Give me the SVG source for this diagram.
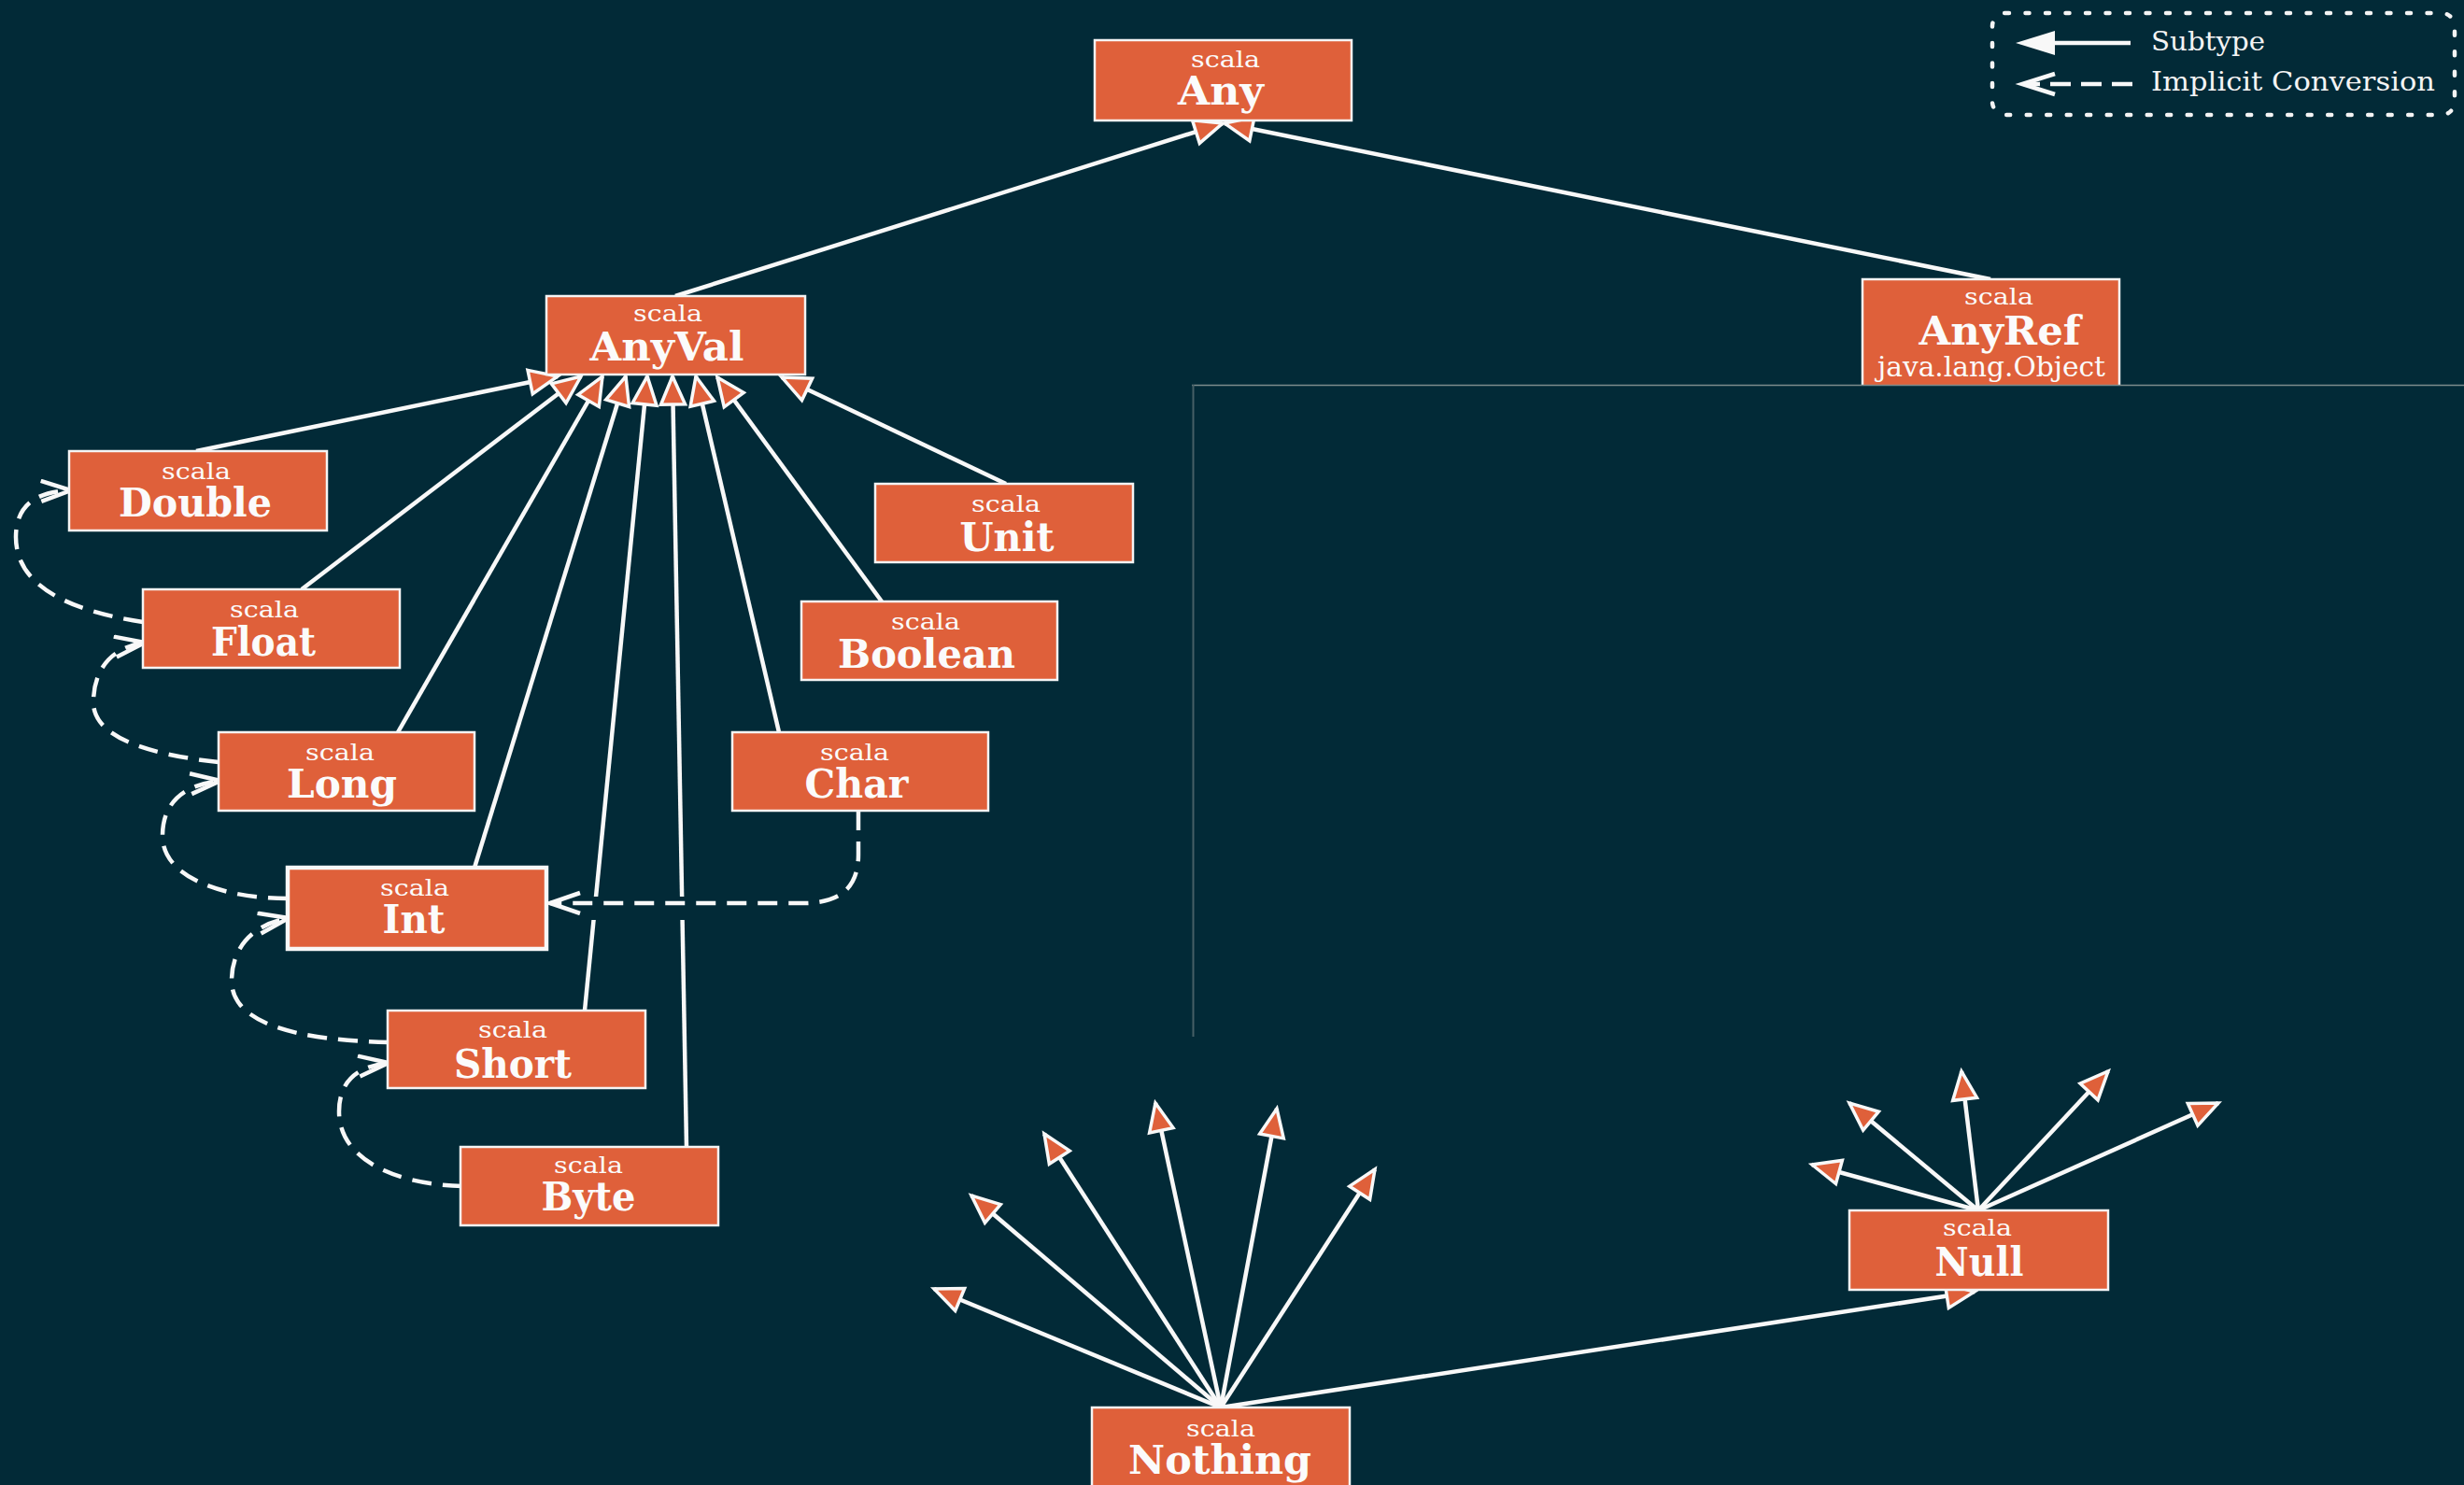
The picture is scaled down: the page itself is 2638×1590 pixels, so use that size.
<svg xmlns="http://www.w3.org/2000/svg" width="2638" height="1590" viewBox="0 0 2638 1590">
<defs>
<style>
.box{fill:#df603a;stroke:#f4f4f4;stroke-width:2.5}
.boxb{fill:#df603a;stroke:#f8f8f8;stroke-width:4.5}
.pkg{font-family:"DejaVu Serif","Liberation Serif",serif;font-size:25px;fill:#fbfbfb;text-anchor:middle}
.nm{font-family:"DejaVu Serif","Liberation Serif",serif;font-size:42px;font-weight:bold;fill:#fbfbfb;text-anchor:middle}
.sub{fill:none;stroke:#f8f8f8;stroke-width:4.5;marker-end:url(#tri)}
.imp{fill:none;stroke:#f8f8f8;stroke-width:4.5;stroke-dasharray:21 12;marker-end:url(#chev)}
.leg{font-family:"DejaVu Serif","Liberation Serif",serif;font-size:28px;fill:#f4f4f4}
</style>
<marker id="tri" markerUnits="userSpaceOnUse" markerWidth="40" markerHeight="40" viewBox="0 0 40 40" refX="34" refY="16" orient="auto">
<path d="M4,3 L34,16 L4,29 Z" fill="#df603a" stroke="#f8f8f8" stroke-width="3.5" stroke-linejoin="miter"/>
</marker>
<marker id="chev" markerUnits="userSpaceOnUse" markerWidth="40" markerHeight="30" viewBox="0 0 40 30" refX="35" refY="13" orient="auto">
<path d="M3,2 L35,13 L3,24" fill="none" stroke="#f8f8f8" stroke-width="4.5" stroke-linejoin="miter"/>
</marker>
</defs>
<rect x="0" y="0" width="2638" height="1590" fill="#022a37"/>

<g id="connectors">
<path class="sub" d="M723,317 L1309,132"/>
<path class="sub" d="M2131,299 L1311,132"/>
<path class="sub" d="M210,483 L597,403"/>
<path class="sub" d="M323,631 L622,403"/>
<path class="sub" d="M426,784 L645,403"/>
<path class="sub" d="M508,929 L670,403"/>
<path class="sub" d="M626,1082 L693,403"/>
<path class="sub" d="M735,1228 L720,403"/>
<path class="sub" d="M834,784 L745,403"/>
<path class="sub" d="M944,644 L768,404"/>
<path class="sub" d="M1077,518 L837,404"/>
<path class="sub" d="M1307,1507 L1000,1380"/>
<path class="sub" d="M1307,1507 L1040,1280"/>
<path class="sub" d="M1307,1507 L1118,1214"/>
<path class="sub" d="M1307,1507 L1237,1181"/>
<path class="sub" d="M1307,1507 L1367,1187"/>
<path class="sub" d="M1307,1507 L1472,1252"/>
<path class="sub" d="M1307,1507 L2114,1383"/>
<path class="sub" d="M2118,1296 L1940,1247"/>
<path class="sub" d="M2118,1296 L1980,1181"/>
<path class="sub" d="M2118,1296 L2100,1147"/>
<path class="sub" d="M2118,1296 L2257,1147"/>
<path class="sub" d="M2118,1296 L2375,1181"/>
<path d="M612,972.5 L900,972.5" stroke="#022a37" stroke-width="25" fill="none"/>
<path class="imp" d="M153,666 C80,655 17,630 17,575 C17,540 40,526 76,525"/>
<path class="imp" d="M234,816 C160,808 100,790 100,752 C100,716 120,693 155,688"/>
<path class="imp" d="M308,962 C240,962 174,940 174,895 C174,860 196,840 236,836"/>
<path class="imp" d="M416,1116 C330,1114 248,1100 248,1050 C248,1015 270,990 309,983"/>
<path class="imp" d="M495,1270 C420,1268 363,1240 363,1190 C363,1160 380,1142 416,1138"/>
<path class="imp" d="M919,868 L919,915 C919,950 900,967 860,967 L589,967"/>
</g>

<g id="node-any">
<rect class="box" x="1172" y="43" width="275" height="86"/>
<text class="pkg" x="1312" y="72" textLength="74" lengthAdjust="spacingAndGlyphs">scala</text>
<text class="nm" x="1307" y="112" textLength="92" lengthAdjust="spacingAndGlyphs">Any</text>
</g>
<g id="node-anyval">
<rect class="box" x="585" y="317" width="277" height="84"/>
<text class="pkg" x="715" y="344" textLength="74" lengthAdjust="spacingAndGlyphs">scala</text>
<text class="nm" x="714" y="386" textLength="165" lengthAdjust="spacingAndGlyphs">AnyVal</text>
</g>
<g id="node-anyref">
<rect class="box" x="1994" y="299" width="275" height="130"/>
<text class="pkg" x="2140" y="326" textLength="74" lengthAdjust="spacingAndGlyphs">scala</text>
<text class="nm" x="2141" y="369" textLength="173" lengthAdjust="spacingAndGlyphs">AnyRef</text>
<text class="pkg" x="2132" y="403" style="font-size:29px" textLength="244" lengthAdjust="spacingAndGlyphs">java.lang.Object</text>
</g>
<g id="node-double">
<rect class="box" x="74" y="483" width="276" height="85"/>
<text class="pkg" x="210" y="513" textLength="74" lengthAdjust="spacingAndGlyphs">scala</text>
<text class="nm" x="209" y="553" textLength="164" lengthAdjust="spacingAndGlyphs">Double</text>
</g>
<g id="node-float">
<rect class="box" x="153" y="631" width="275" height="84"/>
<text class="pkg" x="283" y="661" textLength="74" lengthAdjust="spacingAndGlyphs">scala</text>
<text class="nm" x="282" y="702" textLength="112" lengthAdjust="spacingAndGlyphs">Float</text>
</g>
<g id="node-long">
<rect class="box" x="234" y="784" width="274" height="84"/>
<text class="pkg" x="364" y="814" textLength="74" lengthAdjust="spacingAndGlyphs">scala</text>
<text class="nm" x="366" y="854" textLength="118" lengthAdjust="spacingAndGlyphs">Long</text>
</g>
<g id="node-int">
<rect class="boxb" x="308" y="929" width="277" height="87"/>
<text class="pkg" x="444" y="959" textLength="74" lengthAdjust="spacingAndGlyphs">scala</text>
<text class="nm" x="443" y="999" textLength="67" lengthAdjust="spacingAndGlyphs">Int</text>
</g>
<g id="node-short">
<rect class="box" x="415" y="1082" width="276" height="83"/>
<text class="pkg" x="549" y="1111" textLength="74" lengthAdjust="spacingAndGlyphs">scala</text>
<text class="nm" x="549" y="1154" textLength="126" lengthAdjust="spacingAndGlyphs">Short</text>
</g>
<g id="node-byte">
<rect class="box" x="493" y="1228" width="276" height="84"/>
<text class="pkg" x="630" y="1256" textLength="74" lengthAdjust="spacingAndGlyphs">scala</text>
<text class="nm" x="630" y="1296" textLength="101" lengthAdjust="spacingAndGlyphs">Byte</text>
</g>
<g id="node-char">
<rect class="box" x="784" y="784" width="274" height="84"/>
<text class="pkg" x="915" y="814" textLength="74" lengthAdjust="spacingAndGlyphs">scala</text>
<text class="nm" x="917" y="854" textLength="111" lengthAdjust="spacingAndGlyphs">Char</text>
</g>
<g id="node-boolean">
<rect class="box" x="858" y="644" width="274" height="84"/>
<text class="pkg" x="991" y="674" textLength="74" lengthAdjust="spacingAndGlyphs">scala</text>
<text class="nm" x="992" y="715" textLength="190" lengthAdjust="spacingAndGlyphs">Boolean</text>
</g>
<g id="node-unit">
<rect class="box" x="937" y="518" width="276" height="84"/>
<text class="pkg" x="1077" y="548" textLength="74" lengthAdjust="spacingAndGlyphs">scala</text>
<text class="nm" x="1078" y="590" textLength="101" lengthAdjust="spacingAndGlyphs">Unit</text>
</g>
<g id="node-null">
<rect class="box" x="1980" y="1296" width="277" height="85"/>
<text class="pkg" x="2117" y="1323" textLength="74" lengthAdjust="spacingAndGlyphs">scala</text>
<text class="nm" x="2119" y="1366" textLength="95" lengthAdjust="spacingAndGlyphs">Null</text>
</g>
<g id="node-nothing">
<rect class="box" x="1169" y="1507" width="276" height="100"/>
<text class="pkg" x="1307" y="1538" textLength="74" lengthAdjust="spacingAndGlyphs">scala</text>
<text class="nm" x="1306" y="1578" textLength="196" lengthAdjust="spacingAndGlyphs">Nothing</text>
</g>

<g id="overlay">
<rect x="1277" y="413" width="1361" height="700" fill="#022a37"/>
<path d="M1276,412.5 H2638" stroke="#7d8b8c" stroke-width="1.5" fill="none"/>
<path d="M1277.5,412 V1110" stroke="#465f66" stroke-width="2" fill="none"/>
</g>

<g id="legend">
<rect x="2133" y="14" width="495" height="109" rx="14" fill="none" stroke="#f4f4f4" stroke-width="4.5" stroke-dasharray="4 17.5" stroke-linecap="round"/>
<path d="M2198,46 L2281,46" stroke="#f8f8f8" stroke-width="4.5" fill="none"/>
<polygon points="2158,46 2200,33 2200,59" fill="#f8f8f8"/>
<path d="M2283,90 L2170,90" stroke="#f8f8f8" stroke-width="4.5" stroke-dasharray="22 11" fill="none"/>
<path d="M2200,79 L2165,90 L2200,101" stroke="#f8f8f8" stroke-width="4.5" fill="none"/>
<text class="leg" x="2303" y="54" textLength="122" lengthAdjust="spacingAndGlyphs">Subtype</text>
<text class="leg" x="2303" y="97" textLength="304" lengthAdjust="spacingAndGlyphs">Implicit Conversion</text>
</g>
</svg>
